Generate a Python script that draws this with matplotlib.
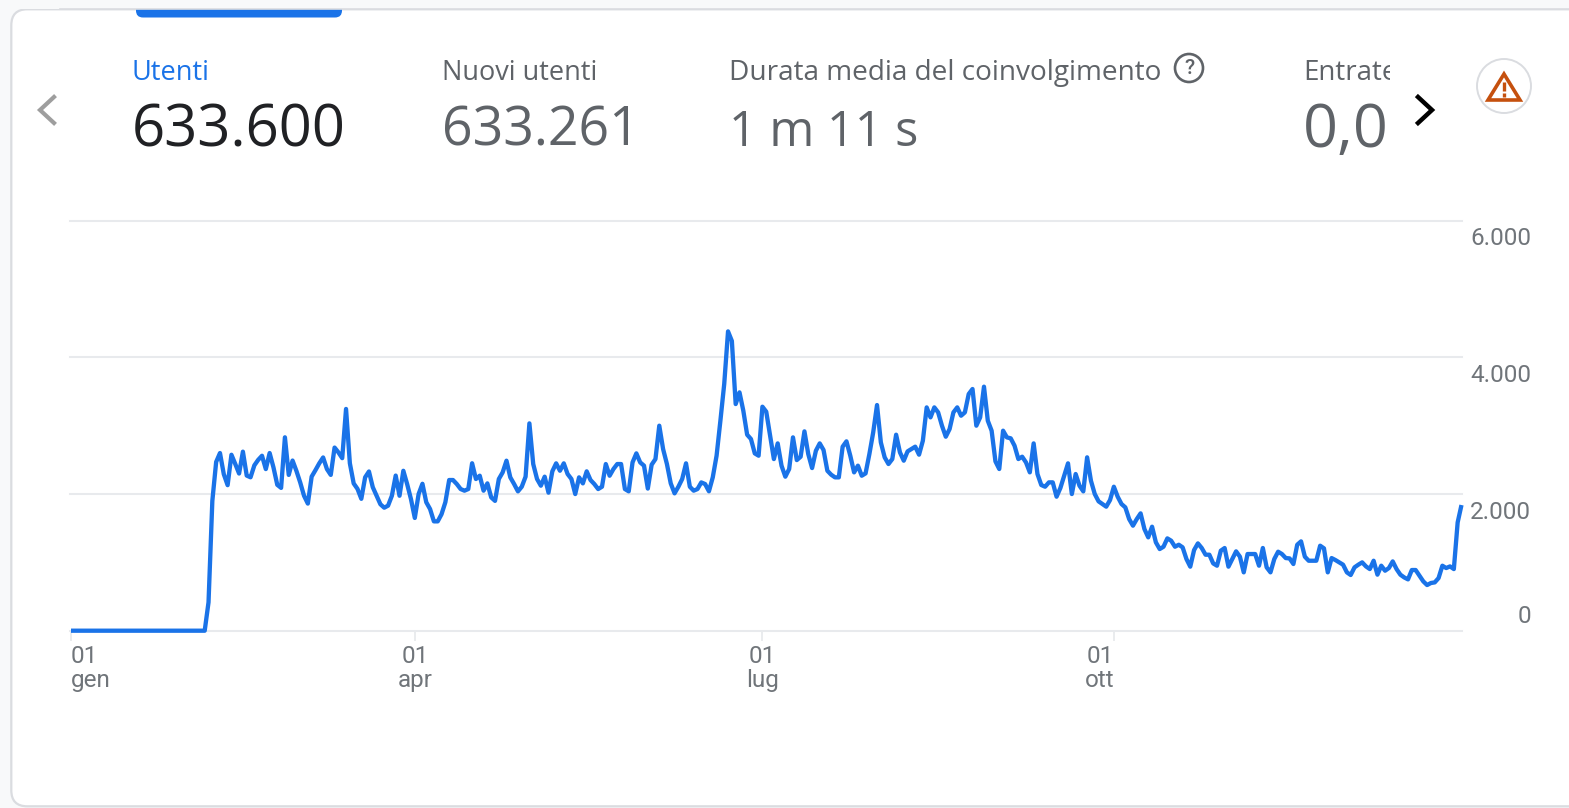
import matplotlib
matplotlib.use("Agg")
import matplotlib.pyplot as plt
from matplotlib.patches import FancyBboxPatch, Circle, Rectangle, Polygon

plt.rcParams['font.family'] = ['Roboto', 'DejaVu Sans']

# ---------- data ----------
jan_mar = [0, 0, 0, 0, 0, 0, 0, 0, 0, 0, 0, 0, 0, 0, 0, 0, 0, 0, 0, 0, 0, 0, 0, 0, 0, 0, 0, 0, 0, 0, 0, 0, 0, 0, 0, 0,
           415, 1900, 2470, 2600, 2290, 2130, 2575, 2440, 2300, 2620, 2270, 2245, 2420, 2500, 2560, 2365, 2600, 2390,
           2135, 2090, 2830, 2280, 2490, 2340, 2170, 1975, 1860, 2255, 2350, 2450, 2535, 2365, 2280, 2680, 2610, 2525,
           3245, 2450, 2155, 2075, 1930, 2245, 2330, 2100, 1975, 1850, 1800, 1830, 1975, 2270, 1975, 2340, 2145, 1925]
apr_jun = [1650, 2000, 2150, 1880, 1780, 1600, 1600, 1705, 1880, 2205, 2205, 2146, 2073, 2049, 2073, 2450, 2220, 2268,
           2049, 2156, 1951, 1900, 2220, 2317, 2488, 2244, 2146, 2039, 2107, 2254, 3034, 2439, 2220, 2122, 2254, 2020,
           2332, 2449, 2341, 2449, 2293, 2220, 2000, 2244, 2156, 2332, 2205, 2146, 2073, 2107, 2439, 2268, 2366, 2439,
           2439, 2073, 2039, 2463, 2595, 2463, 2415, 2080, 2429, 2512, 3000, 2658, 2439, 2156, 2010, 2107, 2220, 2449,
           2107, 2049, 2073, 2170, 2146, 2040, 2244, 2561, 3073, 3610, 4380, 4240, 3317, 3488, 3219, 2868, 2805, 2595,
           2561]
jul_sep = [3278, 3205, 2854, 2512, 2741, 2415, 2254, 2366, 2829, 2497, 2546, 2917, 2585, 2380, 2634, 2741, 2644, 2341,
           2283, 2244, 2244, 2693, 2771, 2561, 2317, 2415, 2268, 2302, 2585, 2902, 3302, 2756, 2537, 2439, 2512, 2868,
           2610, 2488, 2624, 2658, 2693, 2576, 2780, 3268, 3122, 3268, 3195, 3000, 2839, 2951, 3195, 3268, 3146, 3195,
           3463, 3537, 3000, 3122, 3571, 3073, 2927, 2478, 2366, 2927, 2829, 2815, 2707, 2512, 2546, 2463, 2317, 2741,
           2293, 2132, 2107, 2171, 2171, 1961, 2088, 2268, 2449, 2000, 2293, 2122, 2039, 2537, 2195, 2000, 1893, 1854,
           1815, 1912]
oct_dec = [2107, 1961, 1854, 1805, 1634, 1537, 1634, 1717, 1488, 1366, 1522, 1293, 1195, 1229, 1351, 1317, 1229, 1258,
           1220, 1049, 937, 1180, 1278, 1210, 1112, 1112, 985, 951, 1171, 1210, 937, 1049, 1161, 1083, 854, 1122, 1122,
           1122, 951, 1210, 927, 854, 1049, 1156, 1122, 1063, 1058, 976, 1258, 1307, 1083, 1024, 1024, 1024, 1244, 1205,
           854, 1063, 1034, 1000, 966, 854, 815, 927, 966, 1000, 941, 902, 1024, 820, 951, 878, 917, 1014, 902, 820, 780,
           751, 888, 888, 805, 722, 668, 698, 707, 770, 951, 917, 941, 902, 1585, 1839]
users = jan_mar + apr_jun + jul_sep + oct_dec
days = list(range(len(users)))

y_ticks = [0, 2000, 4000, 6000]
x_tick_days = [0, 90, 181, 273]
x_tick_days_labels = ["01\ngen", "01\napr", "01\nlug", "01\nott"]
metric_names = ["Utenti", "Nuovi utenti", "Durata media del coinvolgimento", "Entrate"]
metric_values = ["633.600", "633.261", "1 m 11 s", "0,0"]

# ---------- colours ----------
BLUE = "#1a73e8"
GREY = "#5f6368"
AXIS_GREY = "#70757a"
GRID = "#e8eaed"
W, H = 1569, 808

fig = plt.figure(figsize=(W / 100, H / 100), dpi=100, facecolor="#f8f9fa")

# ---------- overlay in pixel coordinates ----------
ov = fig.add_axes([0, 0, 1, 1], zorder=0)
ov.set_xlim(0, W)
ov.set_ylim(H, 0)
ov.axis("off")

ov.add_patch(FancyBboxPatch((11.3, 9.3), 1700, 797, boxstyle="round,pad=0,rounding_size=16",
                            fc="white", ec="#dadce0", lw=1.6))
# selected-tab marker
ov.add_patch(FancyBboxPatch((136, -10), 206, 27.5, boxstyle="round,pad=0,rounding_size=7",
                            fc=BLUE, ec="none", zorder=2))
ov.add_patch(Rectangle((0, 0), W, 8.8, fc="#f8f9fa", ec="none", zorder=3))
ov.plot([60, W], [9, 9], color="#dadce0", lw=1.2, zorder=3)

# metric headers
head_x = [132, 442, 729, 1303]
head_col = [BLUE, GREY, GREY, GREY]
val_col = ["#202124", GREY, GREY, GREY]
head_size = [19.5, 19.5, 20.2, 20]
val_size = [41.8, 38.6, 35, 44]
val_y = [125, 125, 127, 125]
clip = Rectangle((0, 0), 1390, H, transform=ov.transData)
for x, name, val, hc, vc, hs, vs, vy in zip(head_x, metric_names, metric_values, head_col, val_col,
                                            head_size, val_size, val_y):
    t1 = ov.text(x, 73, name, fontsize=hs, color=hc, va="center", ha="left", family="Open Sans",
                 clip_on=True)
    t2 = ov.text(x, vy + 6, val, fontsize=vs, color=vc, va="center", ha="left", family="Open Sans",
                 clip_on=True)
    t1.set_clip_path(clip)
    t2.set_clip_path(clip)

# chevrons
ov.plot([54, 40, 54], [97, 110, 123], color="#9e9e9e", lw=3, solid_joinstyle="miter")
ov.plot([1418, 1432, 1418], [97, 110, 123], color="black", lw=3.2, solid_joinstyle="miter")

# help icon
ov.add_patch(Circle((1189, 68), 14, fc="none", ec=GREY, lw=1.9))
ov.text(1189, 68, "?", fontsize=15, color=GREY, ha="center", va="center", fontweight="medium")

# warning icon
ov.add_patch(Circle((1504, 86), 27, fc="white", ec="#dadce0", lw=1.4))
ov.add_patch(Polygon([(1504, 74), (1488, 100), (1520, 100)], closed=True, fc="none",
                     ec="#c5500e", lw=2.6, joinstyle="miter"))
ov.plot([1504, 1504], [82, 90.5], color="#c5500e", lw=2.4, solid_capstyle="butt")
ov.plot([1504, 1504], [93, 96.5], color="#c5500e", lw=2.4, solid_capstyle="butt")

# ---------- chart ----------
x0, x1, y_top, y_bot = 70, 1462, 220.7, 630.7
ax = fig.add_axes([x0 / W, 1 - y_bot / H, (x1 - x0) / W, (y_bot - y_top) / H], zorder=1)
ax.patch.set_alpha(0)
px_day = 3.82
ax.set_xlim(-1 / px_day, (x1 - 71) / px_day)
ax.set_ylim(0, 6000)
for s in ax.spines.values():
    s.set_visible(False)

ax.set_yticks(y_ticks)
ax.set_yticklabels([])
ax.tick_params(axis="y", length=0)
ax.grid(axis="y", color=GRID, lw=1.5)
ax.set_axisbelow(True)
for line in ax.get_ygridlines():
    line.set_clip_on(False)

ax.set_xticks(x_tick_days)
ax.set_xticklabels([])
ax.tick_params(axis="x", length=7.5, width=1.3, color=GRID)

ax.plot(days, users, color=BLUE, lw=3.1, solid_joinstyle="round", solid_capstyle="butt",
        clip_on=False, zorder=5)

# y labels (right aligned beyond the plot; first below, zero above its line)
ytrans = ax.get_yaxis_transform()
for v in y_ticks:
    dy = 14 if v == 0 else -18
    ax.annotate(f"{v:,}".replace(",", "."), xy=(1, v), xycoords=ytrans, xytext=(69, dy),
                textcoords="offset pixels", ha="right", va="center", fontsize=17.5, color=AXIS_GREY,
                annotation_clip=False)

# x labels
xtrans = ax.get_xaxis_transform()
x_offsets = [0, 0.5, 0, -14]
x_align = ["left", "center", "center", "center"]
for d, lab, dx, ha in zip(x_tick_days, x_tick_days_labels, x_offsets, x_align):
    ax.annotate(lab, xy=(d, 0), xycoords=xtrans, xytext=(dx, -14), textcoords="offset pixels",
                ha=ha, va="top", fontsize=17.5, color=AXIS_GREY, linespacing=1.05,
                annotation_clip=False, multialignment="center" if ha == "center" else "left")

fig.savefig("out.png", dpi=100, facecolor=fig.get_facecolor())
print(len(users))
